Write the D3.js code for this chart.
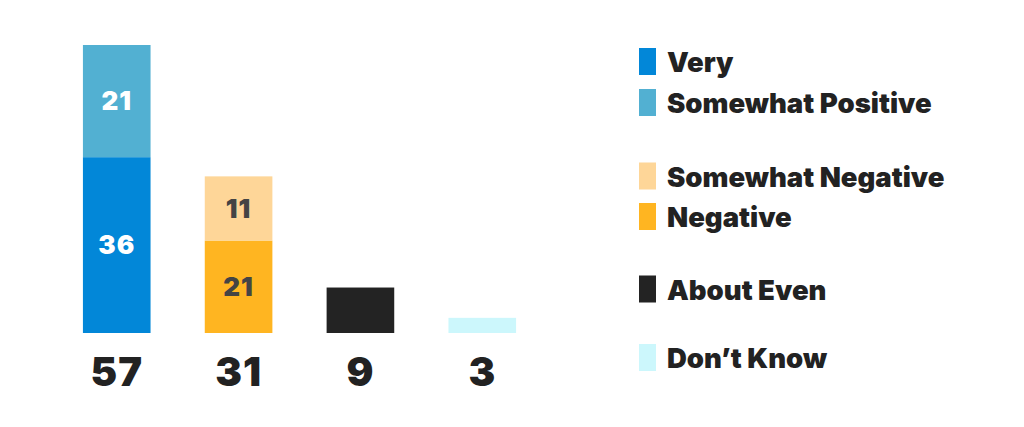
<!DOCTYPE html>
<html><head><meta charset="utf-8">
<script src="https://cdn.jsdelivr.net/npm/d3@7"></script>
<style>html,body{margin:0;padding:0;background:#fff;}svg{display:block;}</style>
</head><body>
<svg id="c" width="1024" height="427"></svg>
<script>
const categories = ["Positive", "Negative", "About Even", "Don't Know"];
const totals = [57, 31, 9, 3];
// segment heights
const lowerValues = [34.8, 18.3, 9, 3];
const upperValues = [22.2, 12.7, 0, 0];
// numbers printed inside the segments
const lowerLabels = ["36", "21", null, null];
const upperLabels = ["21", "11", null, null];
const lowerSeries = ["Very", "Negative", "About Even", "Don’t Know"];
const upperSeries = ["Somewhat Positive", "Somewhat Negative", null, null];
const legendLabels = ["Very", "Somewhat Positive", "Somewhat Negative", "Negative", "About Even", "Don’t Know"];
const colors = {"Very":"#0287d8","Somewhat Positive":"#52b0d2","Somewhat Negative":"#fed698","Negative":"#ffb521","About Even":"#232323","Don’t Know":"#ccf7fc"};
const labelColors = {"Very":"#ffffff","Somewhat Positive":"#ffffff","Somewhat Negative":"#444444","Negative":"#444444"};

const svg = d3.select("#c");
const font = "Inter, 'Open Sans', sans-serif";
const x = d3.scaleBand().domain(categories).range([22, 577]).paddingInner(0.445).paddingOuter(0.5);
const y = d3.scaleLinear().domain([0, 57]).range([333, 45]);

const segs = [];
categories.forEach((c,i)=>{
  segs.push({cat:c, s:lowerSeries[i], y0:0, y1:lowerValues[i], label:lowerLabels[i]});
  if (upperSeries[i]) segs.push({cat:c, s:upperSeries[i], y0:lowerValues[i], y1:lowerValues[i]+upperValues[i], label:upperLabels[i]});
});

svg.append("g").selectAll("rect").data(segs).join("rect")
  .attr("x", d=>x(d.cat)).attr("width", x.bandwidth())
  .attr("y", d=>y(d.y1)).attr("height", d=>y(d.y0)-y(d.y1))
  .attr("fill", d=>colors[d.s]);

svg.append("g").selectAll("text").data(segs.filter(d=>d.label)).join("text")
  .attr("x", d=>x(d.cat)+x.bandwidth()/2)
  .attr("y", d=>(y(d.y0)+y(d.y1))/2)
  .attr("dy","0.36em").attr("text-anchor","middle")
  .attr("font-family", font).attr("font-weight", 900).attr("font-size", 26)
  .attr("letter-spacing", 1)
  .attr("fill", d=>labelColors[d.s]).text(d=>d.label);

svg.append("g").selectAll("text").data(categories).join("text")
  .attr("x", d=>x(d)+x.bandwidth()/2).attr("y", 386)
  .attr("text-anchor","middle")
  .attr("font-family", font).attr("font-weight", 900).attr("font-size", 40)
  .attr("letter-spacing", 1)
  .attr("fill", "#222").text((d,i)=>totals[i]);

const legendPos = [61.5, 102.5, 176, 216.5, 289, 357.5];
const lg = svg.append("g").selectAll("g").data(legendLabels).join("g")
  .attr("transform",(d,i)=>`translate(639,${legendPos[i]})`);
lg.append("rect").attr("x",0).attr("y",-13.5).attr("width",17).attr("height",27).attr("fill",d=>colors[d]);
lg.append("text").attr("x",28).attr("y",10.5)
  .attr("font-family", font).attr("font-weight", 900).attr("font-size", 27.5)
  .attr("fill","#222").text(d=>d);
</script>
</body></html>
